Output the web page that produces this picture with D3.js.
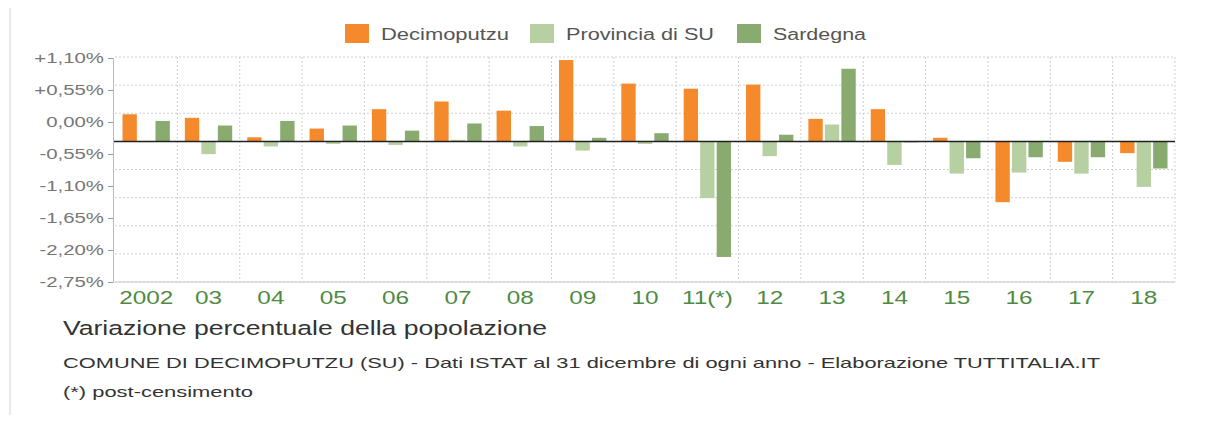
<!DOCTYPE html>
<html><head><meta charset="utf-8">
<script src="https://cdn.jsdelivr.net/npm/d3@7"></script>
<style>body{margin:0;background:#fff}svg{display:block;font-family:"Liberation Sans",Arial,sans-serif}</style>
</head><body><svg id="c" width="1210" height="421"></svg>
<script>
const years = ["2002","03","04","05","06","07","08","09","10","11(*)","12","13","14","15","16","17","18"];
const seriesNames = ["Decimoputzu","Provincia di SU","Sardegna"];
const decimoputzu = [0.53,0.46,0.08,0.25,0.63,0.78,0.60,1.59,1.13,1.03,1.11,0.44,0.63,0.07,-1.19,-0.40,-0.23];
const provincia   = [0.00,-0.25,-0.10,-0.05,-0.07,0.03,-0.10,-0.18,-0.05,-1.11,-0.29,0.33,-0.46,-0.63,-0.61,-0.63,-0.89];
const sardegna    = [0.40,0.31,0.40,0.31,0.21,0.35,0.30,0.07,0.16,-2.26,0.13,1.42,-0.02,-0.33,-0.31,-0.31,-0.53];
const tickLabels = ["+1,10%","+0,55%","0,00%","-0,55%","-1,10%","-1,65%","-2,20%","-2,75%"];
const gridValues = [1.65,1.10,0.55,0,-0.55,-1.10,-1.65,-2.20,-2.75];
const colors = ["#f48a2c","#b7d0a1","#8aab6f"];

const SX = 1.36; // horizontal stretch of the reference text
const svg = d3.select("#c");
const L=115, R=1175, T=57, B=282;
const y = d3.scaleLinear().domain([-2.75,1.65]).range([B,T]);
const x0 = d3.scaleBand().domain(years).range([L,R]);
const x1 = d3.scaleBand().domain(seriesNames).range([7.5, x0.bandwidth()-7.5]).paddingInner(0.13);
const yLab = d3.scalePoint().domain(tickLabels).range([T+1,B]);
const allSeries = [decimoputzu, provincia, sardegna];

function stext(x, yy, txt, size, fill, anchor, sx){
  const gg = svg.append("g").attr("transform",`translate(${x},${yy}) scale(${sx||SX},1)`);
  return gg.append("text").attr("x",0).attr("y",0).text(txt)
    .attr("font-size",size+"px").attr("fill",fill).attr("text-anchor",anchor||"start");
}

// frame line left
svg.append("line").attr("x1",10).attr("x2",10).attr("y1",8).attr("y2",415).attr("stroke","#e2e2e2").attr("stroke-width",1.5);

// grid
const g = svg.append("g");
g.selectAll(".hg").data(gridValues).enter().append("line")
  .attr("x1",L).attr("x2",R).attr("y1",d=>y(d)).attr("y2",d=>y(d))
  .attr("stroke","#cfcfcf").attr("stroke-dasharray","2,2").attr("stroke-width",1);
g.selectAll(".vg").data(years.slice(1).concat(["end"])).enter().append("line")
  .attr("x1",(d,i)=>L+(i+1)*x0.step()).attr("x2",(d,i)=>L+(i+1)*x0.step())
  .attr("y1",T).attr("y2",B)
  .attr("stroke","#cfcfcf").attr("stroke-dasharray","2,2").attr("stroke-width",1);

// bars
years.forEach((yr,i)=>{
  allSeries.forEach((s,j)=>{
    const v=s[i];
    svg.append("rect")
      .attr("x",x0(yr)+x1(seriesNames[j]))
      .attr("width",x1.bandwidth())
      .attr("y",Math.min(y(v),y(0)))
      .attr("height",Math.max(Math.abs(y(v)-y(0)),0.8))
      .attr("fill",colors[j]);
  });
});

// zero line
svg.append("line").attr("x1",L-2).attr("x2",R).attr("y1",y(0)).attr("y2",y(0)).attr("stroke","#222").attr("stroke-width",1.5);

// y axis (labels at evenly spaced positions)
const ya = svg.append("g").attr("transform",`translate(${L-2},0)`).call(d3.axisLeft(yLab).tickSize(5).tickFormat(""));
ya.select(".domain").attr("stroke","#bbb");
ya.selectAll(".tick line").attr("stroke","#999");
tickLabels.forEach(t=>{
  stext(L-11, yLab(t)+5, t, 15, "#777", "end", 1.36);
});

// bottom axis
svg.append("line").attr("x1",L-2).attr("x2",R).attr("y1",B).attr("y2",B).attr("stroke","#ccc");
const xa = svg.append("g").attr("transform",`translate(0,${B})`).call(d3.axisBottom(x0).tickSize(0).tickFormat(""));
xa.select(".domain").remove();
years.forEach(yr=>{
  stext(x0(yr)+x0.bandwidth()/2, B+22, yr, 19, "#4f8a43", "middle", 1.28);
});

// legend
const legItems=[{n:"Decimoputzu",x:345,w:128},{n:"Provincia di SU",x:530,w:148},{n:"Sardegna",x:737,w:93}];
legItems.forEach((l,j)=>{
  svg.append("rect").attr("x",l.x).attr("y",24).attr("width",24).attr("height",19).attr("fill",colors[j]);
  svg.append("text").attr("x",l.x+36).attr("y",40).text(l.n).attr("fill","#555").attr("font-size","16px")
    .attr("textLength",l.w).attr("lengthAdjust","spacingAndGlyphs");
});

// titles
svg.append("text").attr("x",63).attr("y",335).text("Variazione percentuale della popolazione").attr("fill","#333").attr("font-size","20.5px")
  .attr("textLength",484).attr("lengthAdjust","spacingAndGlyphs");
svg.append("text").attr("x",63).attr("y",368).text("COMUNE DI DECIMOPUTZU (SU) - Dati ISTAT al 31 dicembre di ogni anno - Elaborazione TUTTITALIA.IT").attr("fill","#333").attr("font-size","15px")
  .attr("textLength",1037).attr("lengthAdjust","spacingAndGlyphs");
svg.append("text").attr("x",63).attr("y",397).text("(*) post-censimento").attr("fill","#333").attr("font-size","15px")
  .attr("textLength",190).attr("lengthAdjust","spacingAndGlyphs");
</script></body></html>
